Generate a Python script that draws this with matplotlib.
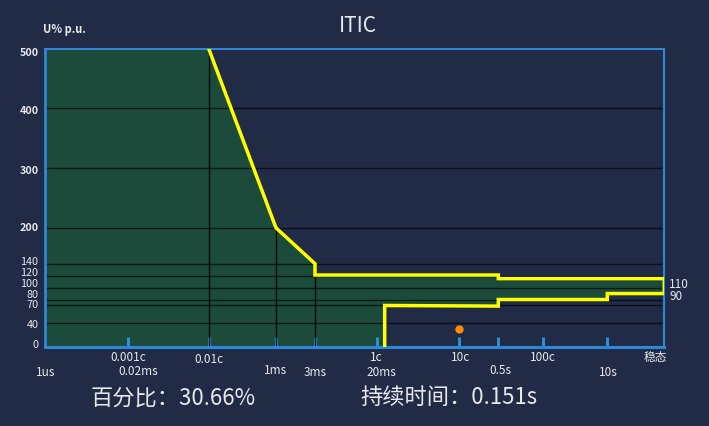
import numpy as np
import matplotlib
matplotlib.use('Agg')
import matplotlib.pyplot as plt

plt.rcParams['font.family'] = ['Noto Sans CJK SC', 'DejaVu Sans']

# ---------------- data ----------------
title = 'ITIC'
y_label = 'U% p.u.'
y_ticks = [0, 40, 70, 80, 100, 120, 140, 200, 300, 400, 500]
x_tick_times = [1e-6, 2e-5, 2e-4, 1e-3, 3e-3, 2e-2, 0.2, 0.5, 2, 10, 100]
row1_labels = ['0.001c', '0.01c', '1c', '10c', '100c', '稳态']
row1_times = [2e-5, 2e-4, 2e-2, 0.2, 2, 100]
row2_labels = ['1us', '0.02ms', '1ms', '3ms', '20ms', '0.5s', '10s']
row2_times = [1e-6, 2e-5, 1e-3, 3e-3, 2e-2, 0.5, 10]
upper_t = [1e-6, 2e-4, 1e-3, 3e-3, 3e-3, 0.5, 0.5, 100]
upper_v = [500, 500, 200, 140, 121, 121, 115, 115]
lower_t = [1e-6, 0.025, 0.025, 0.5, 0.5, 10, 10, 100]
lower_v = [0, 0, 70, 69, 80, 80, 90, 90]
right_labels = ['110', '90']
right_values = [110, 90]
event_t = [0.2]
event_v = [31]
percent_text = '百分比：30.66%'
duration_text = '持续时间：0.151s'

# ---------------- layout / style ----------------
W, H = 709, 426
BG = '#212b45'
GREEN = '#1d4b3b'
YELLOW = '#ffff00'
BLUE = '#2d86d8'
TXT = '#e6e8ec'

# axis anchor positions (pixels) for the custom time scale
anchor_px = [45, 128, 208.7, 276, 315, 376.7, 459.3, 498.3, 543.3, 607.3, 664.3]
anchor_log = np.log10(x_tick_times)

def fwd(t):
    t = np.clip(np.asarray(t, dtype=float), 1e-12, None)
    return np.interp(np.log10(t), anchor_log, anchor_px)

def inv(p):
    return 10 ** np.interp(np.asarray(p, dtype=float), anchor_px, anchor_log)

fig = plt.figure(figsize=(W / 100, H / 100), dpi=100, facecolor=BG)
ax_l, ax_r, ax_t, ax_b = 45, 664.3, 48.7, 347.3
ax = fig.add_axes([ax_l / W, 1 - ax_b / H, (ax_r - ax_l) / W, (ax_b - ax_t) / H])
ax.set_facecolor(BG)
ax.set_xscale('function', functions=(fwd, inv))
ax.set_xlim(x_tick_times[0], x_tick_times[-1])
ax.set_ylim(0, 500)

# fill region between curves
poly_t = list(upper_t) + list(lower_t[::-1])
poly_v = list(upper_v) + list(lower_v[::-1])
ax.fill(poly_t, poly_v, color=GREEN, lw=0, zorder=1)

# horizontal grid lines
for v in y_ticks[1:-1]:
    ax.axhline(v, color='black', lw=1.0, alpha=0.65, zorder=2)

# vertical lines from upper-curve vertices down to zero
vt = [upper_t[1], upper_t[2], upper_t[3]]
vv = [upper_v[1], upper_v[2], upper_v[3]]
ax.vlines(vt, 0, vv, color='black', lw=1.0, alpha=0.85, zorder=2)

# yellow ITIC curve
curve_t = list(upper_t[1:]) + list(lower_t[1:][::-1])
curve_v = list(upper_v[1:]) + list(lower_v[1:][::-1])
curve_v[-1] = 2
ax.plot(curve_t, curve_v, color=YELLOW, lw=2.5, solid_joinstyle='miter', zorder=4)

# event point
ax.plot(event_t, event_v, 'o', color='#ff8c00', ms=6, mec='none', zorder=5)

# spines
for s in ax.spines.values():
    s.set_color(BLUE)
    s.set_linewidth(1.5)
ax.spines['bottom'].set_linewidth(2.2)
ax.spines['left'].set_linewidth(2.0)

# ticks
ax.set_xticks(x_tick_times[1:-1])
ax.set_xticks([], minor=True)
ax.tick_params(axis='x', direction='in', length=7, width=2.2, color='#2a8fd4',
               labelbottom=False)
ax.set_yticks([])

# y labels (drawn manually to keep the reference spacing)
y_off = [2.3, -1.6, 0.3, 4.4, 3.3, 2.4, 1.3, 0, -2.5, -2.5, -4]
for v, dy in zip(y_ticks, y_off):
    ax.annotate(str(v), xy=(0, v), xycoords=('axes fraction', 'data'),
                xytext=(-6.5, dy), textcoords='offset pixels', ha='right', va='center',
                fontsize=7.8, fontweight='bold' if v >= 200 else 'normal',
                color=TXT, annotation_clip=False)

# x labels (two rows)
row1_off = [(0, -10), (0, -12), (0, -10), (1, -10), (0, -10), (-9, -10.5)]
row2_off = [(1, -25), (10, -24), (0, -23), (0, -25.5), (5, -25.5), (2, -23), (1, -25.5)]
for lab, t, (dx, dy) in zip(row1_labels, row1_times, row1_off):
    ax.annotate(lab, xy=(t, 0), xytext=(dx, dy), textcoords='offset pixels',
                ha='center', va='center', fontsize=8.5, color=TXT, annotation_clip=False)
for lab, t, (dx, dy) in zip(row2_labels, row2_times, row2_off):
    ax.annotate(lab, xy=(t, 0), xytext=(dx, dy), textcoords='offset pixels',
                ha='center', va='center', fontsize=8.5, color=TXT, annotation_clip=False)

# right-side labels
for lab, v, dy in zip(right_labels, right_values, [-3, -2.5]):
    ax.annotate(lab, xy=(1, v), xycoords=('axes fraction', 'data'), xytext=(5, dy),
                textcoords='offset pixels', ha='left', va='center', fontsize=8.5,
                color=TXT, annotation_clip=False)

# titles and texts
fig.text(357.8 / W, 1 - 25.5 / H, title, ha='center', va='center', fontsize=15, color=TXT)
fig.text(43 / W, 1 - 30 / H, y_label, ha='left', va='center', fontsize=8,
         fontweight='bold', color=TXT)
fig.text(90.5 / W, 1 - 398 / H, percent_text, ha='left', va='center', fontsize=16, color=TXT)
fig.text(360 / W, 1 - 398 / H, duration_text, ha='left', va='center', fontsize=16, color=TXT)

fig.savefig('out.png', dpi=100, facecolor=BG)
